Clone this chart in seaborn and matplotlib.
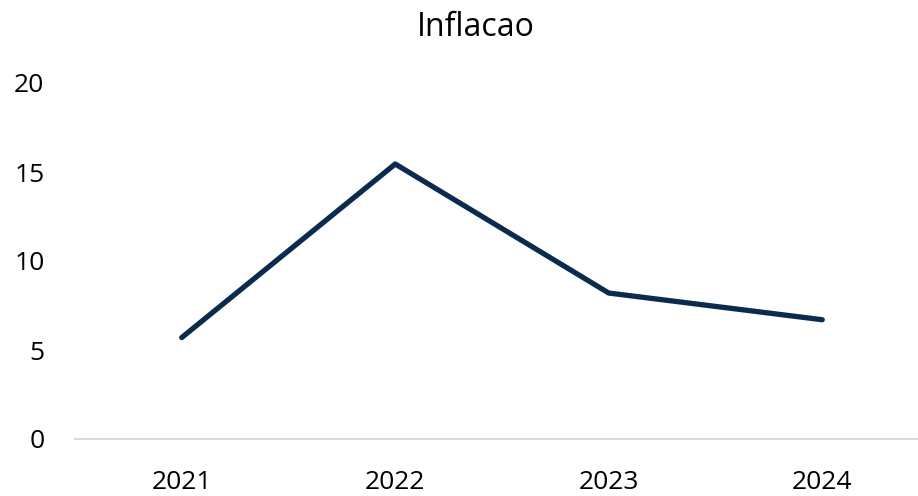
import matplotlib
matplotlib.use("Agg")
import matplotlib.pyplot as plt
import seaborn as sns
import pandas as pd

anos = ["2021", "2022", "2023", "2024"]
inflacao = [5.7, 15.45, 8.2, 6.7]

df = pd.DataFrame({"ano": anos, "inflacao": inflacao})

sns.set_style("white")
plt.rcParams['font.family'] = ['Open Sans', 'DejaVu Sans']

fig = plt.figure(figsize=(9.18, 4.96), dpi=100)
# a area do grafico passa um pouco da borda direita, como no original
ax = fig.add_axes([75 / 918, 57 / 496, 854 / 918, 356 / 496])

sns.lineplot(data=df, x="ano", y="inflacao", color="#0a2a4e", linewidth=3.8,
             sort=False, ax=ax)

ax.set_xlim(-0.5, 3.5)
ax.set_ylim(0, 20)
ax.set_yticks([0, 5, 10, 15, 20])
ax.set_xlabel("")
ax.set_ylabel("")
fig.text(476 / 918, 1 - 27 / 496, "Inflacao", fontsize=23, color="black",
         ha="center", va="center")
ax.tick_params(axis="both", labelsize=19, length=0, colors="black")
ax.tick_params(axis="x", pad=22)
ax.tick_params(axis="y", pad=22)
for s in ["top", "right", "left"]:
    ax.spines[s].set_visible(False)
ax.spines["bottom"].set_color("#d9d9d9")
ax.spines["bottom"].set_linewidth(1.5)

fig.savefig("out.png", dpi=100)
